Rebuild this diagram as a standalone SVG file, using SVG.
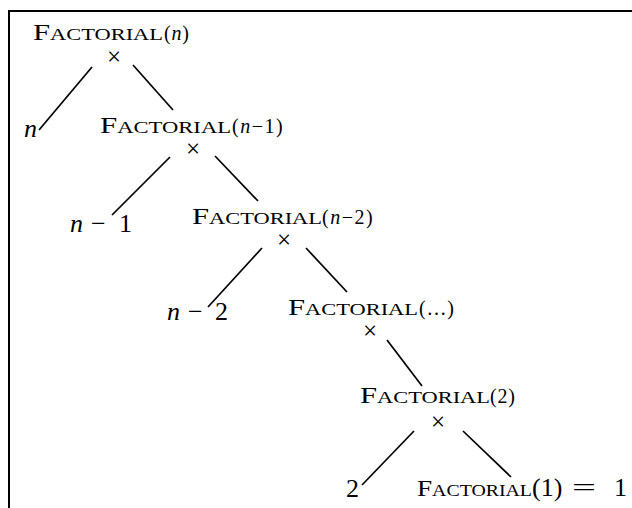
<svg xmlns="http://www.w3.org/2000/svg" width="632" height="508" viewBox="0 0 632 508">
<style>
text{font-family:"Liberation Serif","DejaVu Serif",serif;fill:#000}
.big{font-size:24px}
.sc{font-size:17.5px}
.arg{font-size:20px;letter-spacing:0.8px}
.it{font-style:italic}
.times{font-size:25px}
.leaf{font-size:26px}
line{stroke:#000;stroke-width:1.7;stroke-linecap:butt}
</style>
<rect width="632" height="508" fill="#fff"/>
<g id="frame">
<line x1="9" y1="11" x2="632" y2="11" style="stroke-width:2"/>
<line x1="9" y1="10" x2="9" y2="508" style="stroke-width:2"/>
</g>
<g id="connectors">
<line x1="92" y1="67" x2="39" y2="130"/>
<line x1="133" y1="65" x2="173" y2="110"/>
<line x1="170" y1="157" x2="112" y2="215"/>
<line x1="215" y1="156" x2="258" y2="201"/>
<line x1="262" y1="248" x2="208" y2="307"/>
<line x1="306" y1="248" x2="347" y2="292"/>
<line x1="387" y1="340" x2="422" y2="386"/>
<line x1="414" y1="431" x2="362" y2="485"/>
<line x1="463" y1="431" x2="511" y2="477"/>
</g>
<g id="node-fn">
<text x="33" y="40" textLength="130" lengthAdjust="spacingAndGlyphs"><tspan class="big">F</tspan><tspan class="sc">ACTORIAL</tspan></text>
<text x="164" y="40" class="arg">(<tspan class="it">n</tspan>)</text>
<text x="114" y="65" class="times" text-anchor="middle">×</text>
</g>
<g id="node-n">
<text x="24" y="137" class="leaf it">n</text>
</g>
<g id="node-fn1">
<text x="100" y="133" textLength="131" lengthAdjust="spacingAndGlyphs"><tspan class="big">F</tspan><tspan class="sc">ACTORIAL</tspan></text>
<text x="232" y="133" class="arg" style="letter-spacing:1.5px">(<tspan class="it">n</tspan>−1)</text>
<text x="193" y="157" class="times" text-anchor="middle">×</text>
</g>
<g id="node-n1">
<text y="232" class="leaf"><tspan x="70" class="it">n</tspan><tspan x="91">−</tspan><tspan x="119">1</tspan></text>
</g>
<g id="node-fn2">
<text x="192" y="224" textLength="130" lengthAdjust="spacingAndGlyphs"><tspan class="big">F</tspan><tspan class="sc">ACTORIAL</tspan></text>
<text x="322" y="224" class="arg" style="letter-spacing:1.5px">(<tspan class="it">n</tspan>−2)</text>
<text x="284" y="248" class="times" text-anchor="middle">×</text>
</g>
<g id="node-n2">
<text y="320" class="leaf"><tspan x="167" class="it">n</tspan><tspan x="188">−</tspan><tspan x="215">2</tspan></text>
</g>
<g id="node-fdots">
<text x="288" y="315" textLength="130" lengthAdjust="spacingAndGlyphs"><tspan class="big">F</tspan><tspan class="sc">ACTORIAL</tspan></text>
<text x="419" y="315" class="arg">(…)</text>
<text x="370" y="339" class="times" text-anchor="middle">×</text>
</g>
<g id="node-f2">
<text x="360" y="403" textLength="130" lengthAdjust="spacingAndGlyphs"><tspan class="big">F</tspan><tspan class="sc">ACTORIAL</tspan></text>
<text x="490" y="403" class="arg">(2)</text>
<text x="438" y="430" class="times" text-anchor="middle">×</text>
</g>
<g id="node-2">
<text x="346" y="497" class="leaf">2</text>
</g>
<g id="node-f1">
<text x="417" y="496" textLength="115" lengthAdjust="spacingAndGlyphs"><tspan class="big">F</tspan><tspan class="sc">ACTORIAL</tspan></text>
<text x="532" y="496" class="leaf">(1)</text>
<text x="572" y="496" class="leaf" textLength="24" lengthAdjust="spacingAndGlyphs">=</text>
<text x="614" y="496" class="leaf">1</text>
</g>
</svg>
